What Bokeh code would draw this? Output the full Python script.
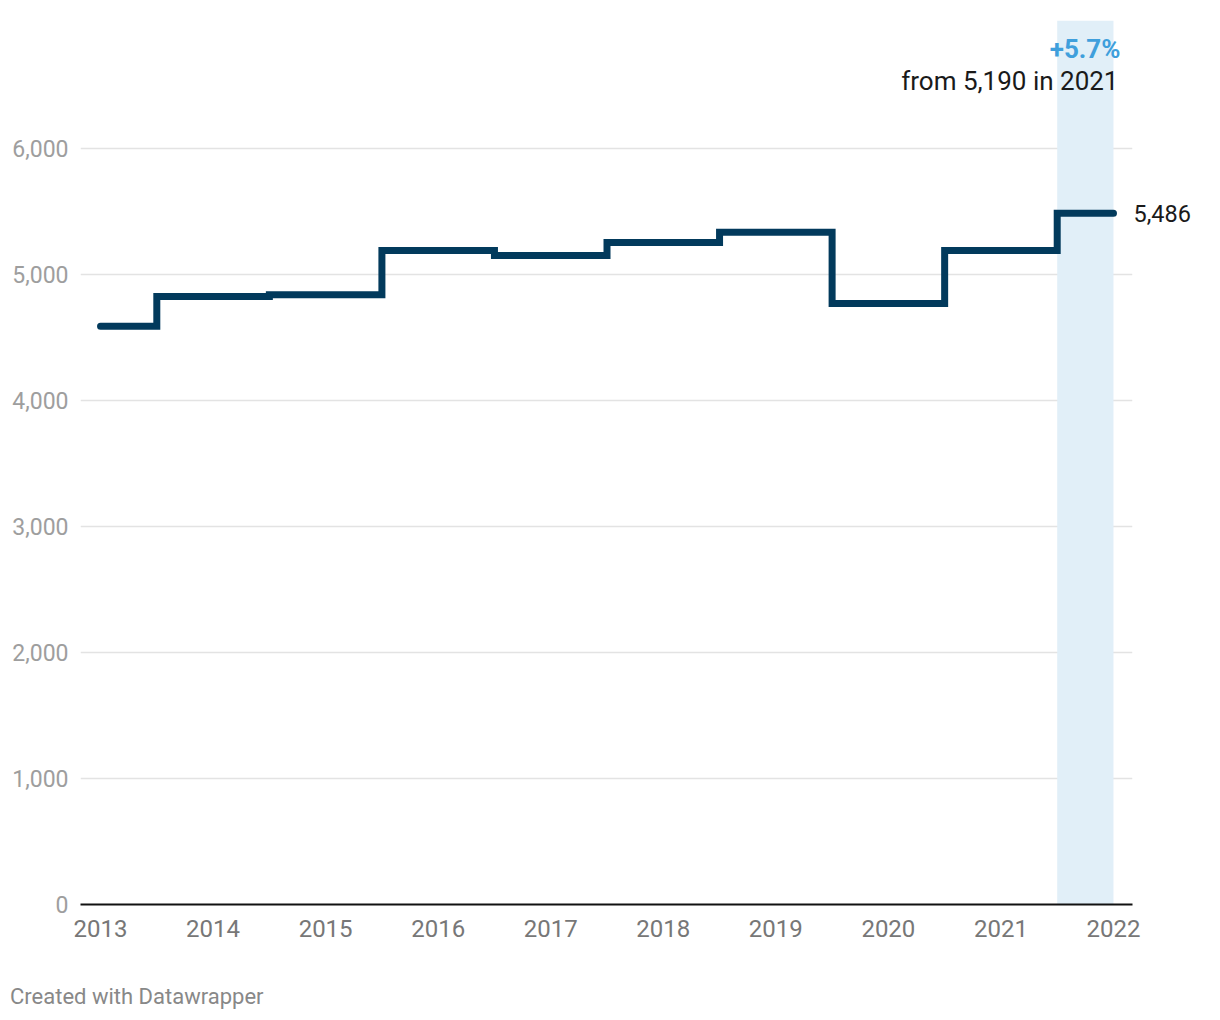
from bokeh.plotting import figure
from bokeh.models import (FixedTicker, NumeralTickFormatter, Label, BoxAnnotation, Range1d,
                          LinearAxis, Div)
from bokeh.layouts import column
from bokeh.embed import file_html
from bokeh.resources import INLINE

years = [2013, 2014, 2015, 2016, 2017, 2018, 2019, 2020, 2021, 2022]
values = [4590, 4825, 4840, 5190, 5150, 5255, 5335, 4770, 5190, 5486]
y_ticks = [0, 1000, 2000, 3000, 4000, 5000, 6000]

FONT = "Roboto"

p = figure(width=1212, height=960, output_backend="svg", toolbar_location=None,
           x_range=Range1d(2012.822, 2022.169), y_range=Range1d(0, 7016),
           min_border_left=80, min_border_right=80, min_border_top=20, min_border_bottom=56)
p.outline_line_color = None
p.background_fill_color = "white"
p.border_fill_color = "white"

# highlight band for last period
band = BoxAnnotation(left=(years[-2] + years[-1]) / 2, right=years[-1],
                     fill_color="#e1eff8", fill_alpha=1.0, line_color=None, level="underlay")
p.add_layout(band)

p.step(years, values, mode="center", line_width=7, line_color="#023a5c",
       line_cap="round", line_join="miter")

# axes
p.xaxis.ticker = FixedTicker(ticks=years)
p.xaxis.axis_line_color = "#111111"
p.xaxis.axis_line_width = 2
p.xaxis.major_tick_line_color = None
p.xaxis.minor_tick_line_color = None
p.xaxis.major_tick_out = 0
p.xaxis.major_tick_in = 0
p.xaxis.major_label_text_font = FONT
p.xaxis.major_label_text_font_size = "24px"
p.xaxis.major_label_text_color = "#777777"
p.xaxis.major_label_standoff = 15

p.yaxis.ticker = FixedTicker(ticks=y_ticks)
p.yaxis.formatter = NumeralTickFormatter(format="0,0")
p.yaxis.axis_line_color = None
p.yaxis.major_tick_line_color = None
p.yaxis.minor_tick_line_color = None
p.yaxis.major_tick_out = 0
p.yaxis.major_tick_in = 0
p.yaxis.major_label_text_font = FONT
p.yaxis.major_label_text_font_size = "23px"
p.yaxis.major_label_text_color = "#9e9e9e"
p.yaxis.major_label_standoff = 12

# end value label via right axis
r_axis = LinearAxis(ticker=FixedTicker(ticks=[values[-1]]),
                    formatter=NumeralTickFormatter(format="0,0"))
r_axis.axis_line_color = None
r_axis.major_tick_line_color = None
r_axis.minor_tick_line_color = None
r_axis.major_tick_out = 0
r_axis.major_tick_in = 0
r_axis.major_label_standoff = 1
r_axis.major_label_text_font = FONT
r_axis.major_label_text_font_size = "23.5px"
r_axis.major_label_text_color = "#1a1a1a"
p.add_layout(r_axis, "right")

p.xgrid.grid_line_color = None
p.ygrid.ticker = FixedTicker(ticks=y_ticks[1:])
p.ygrid.grid_line_color = "#e3e3e3"
p.ygrid.grid_line_width = 1.5

pct = (values[-1] - values[-2]) / values[-2] * 100
p.add_layout(Label(x=years[-1], y=6786, text=f"+{pct:.1f}%", x_offset=7,
                   text_baseline="middle", text_align="right", text_font=FONT,
                   text_font_size="26px", text_font_style="bold", text_color="#3f9fdc"))
p.add_layout(Label(x=years[-1], y=6532, text=f"from {values[-2]:,} in {years[-2]}", x_offset=5,
                   text_baseline="middle", text_align="right", text_font=FONT,
                   text_font_size="26px", text_color="#1a1a1a"))

footer = Div(text="Created with Datawrapper", width=1212, height=50,
             styles={"font-family": "Roboto", "font-size": "22px", "color": "#888888",
                     "line-height": "26px", "padding-top": "24px", "padding-left": "10px",
                     "box-sizing": "border-box", "margin": "0"})

layout = column(p, footer, spacing=0)

open("out.html", "w").write(file_html(layout, INLINE))
